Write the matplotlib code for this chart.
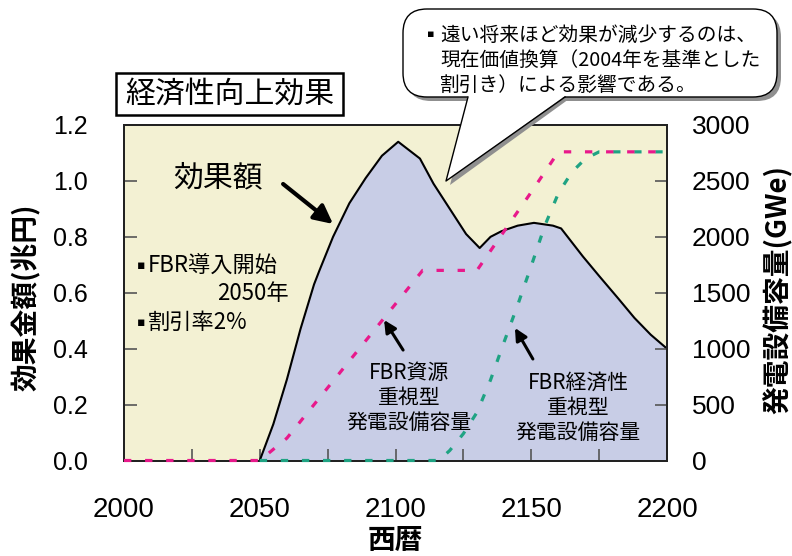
import matplotlib.pyplot as plt
from matplotlib.patches import FancyBboxPatch, Polygon, Rectangle
from matplotlib.ticker import MultipleLocator

plt.rcParams['font.family'] = ['Liberation Sans', 'Noto Sans CJK JP', 'DejaVu Sans']
JP = ['Noto Sans CJK JP', 'DejaVu Sans']

# 効果額 (兆円)
effect_years = [2050, 2055, 2060, 2065, 2070, 2072, 2077, 2083, 2089, 2095, 2101,
                2109, 2114, 2120, 2126, 2131, 2135, 2139, 2145, 2151, 2158, 2161,
                2169, 2175, 2182, 2188, 2194, 2200]
effect = [0.0, 0.13, 0.29, 0.47, 0.63, 0.68, 0.80, 0.92, 1.01, 1.09, 1.14,
          1.08, 0.99, 0.90, 0.81, 0.76, 0.80, 0.82, 0.84, 0.85, 0.84, 0.83,
          0.73, 0.66, 0.58, 0.51, 0.45, 0.40]

# FBR資源重視型 発電設備容量 (GWe)
res_years = [2000, 2050, 2053, 2060, 2070, 2080, 2090, 2100, 2110, 2130, 2140, 2150, 2160, 2200]
res_cap = [0, 0, 60, 200, 500, 800, 1100, 1400, 1700, 1700, 2050, 2400, 2760, 2760]

# FBR経済性重視型 発電設備容量 (GWe)
eco_years = [2050, 2116, 2120, 2125, 2130, 2135, 2140, 2145, 2150, 2155, 2160, 2165, 2170, 2175, 2200]
eco_cap = [0, 0, 90, 240, 430, 720, 1060, 1390, 1740, 2100, 2390, 2580, 2700, 2760, 2760]

fig = plt.figure(figsize=(7.92, 5.56), dpi=100)
ax = fig.add_axes([124 / 792, 95.5 / 556, 543 / 792, 335.5 / 556])
ax.set_facecolor('#f3f1d3')
ax.set_xlim(2000, 2200)
ax.set_ylim(0, 1.2)

ax.fill_between(effect_years, effect, 0, color='#c8cde6', zorder=1)
ax.plot(effect_years, effect, color='black', lw=1.5, zorder=2)

ax2 = ax.twinx()
ax2.set_ylim(0, 3000)
dash = (0, (2.3, 4.3))
ax2.plot(eco_years, eco_cap, color='#1fa383', lw=2.3, linestyle=dash,
         dash_capstyle='butt', clip_on=False, zorder=4)
ax2.plot(res_years, res_cap, color='#e8198b', lw=2.3, linestyle=dash,
         dash_capstyle='butt', clip_on=False, zorder=4)

# axes, ticks
ax.xaxis.set_major_locator(MultipleLocator(50))
ax.xaxis.set_minor_locator(MultipleLocator(25))
ax.yaxis.set_major_locator(MultipleLocator(0.2))
ax.yaxis.set_major_formatter(lambda v, p: f'{v:.1f}')
ax2.yaxis.set_major_locator(MultipleLocator(500))
ax.tick_params(axis='x', which='both', direction='in', length=9, width=1.2,
               color='#555555', labelsize=20, pad=26)
ax.tick_params(axis='y', direction='in', length=9, width=1.2,
               color='#555555', labelsize=18, pad=26)
ax2.tick_params(axis='y', direction='in', length=9, width=1.2,
                color='#555555', labelsize=19, pad=18)
for a in (ax, ax2):
    for s in a.spines.values():
        s.set_linewidth(1.4)
        s.set_color('#222222')

fig.text(26 / 792, 1 - 297 / 556, '効果金額(兆円)', rotation=90, ha='center', va='center',
         fontsize=20, family=JP, weight='bold')
fig.text(778 / 792, 1 - 290 / 556, '発電設備容量(GWe)', rotation=90, ha='center', va='center',
         fontsize=20, family=JP, weight='bold')
fig.text(395 / 792, 1 - 541 / 556, '西暦', ha='center', va='center',
         fontsize=20, family=JP, weight='bold')

# annotations inside the plot
ax.text(2034.6, 1.01, '効果額', ha='center', va='center', fontsize=21.5, family=JP, zorder=5)
ax.annotate('', xy=(2077.0, 0.846), xytext=(2058.6, 0.989),
            arrowprops=dict(arrowstyle='-|>', lw=3, color='black', mutation_scale=28,
                            shrinkA=0, shrinkB=0), zorder=5)
ax.text(2004.6, 0.699, '▪', ha='left', va='center', fontsize=9, family=['DejaVu Sans'], zorder=5)
ax.text(2008.6, 0.699, 'FBR導入開始', ha='left', va='center', fontsize=16, family=JP, zorder=5)
ax.text(2060.8, 0.599, '2050年', ha='right', va='center', fontsize=16, family=JP, zorder=5)
ax.text(2004.6, 0.495, '▪', ha='left', va='center', fontsize=9, family=['DejaVu Sans'], zorder=5)
ax.text(2008.6, 0.495, '割引率2%', ha='left', va='center', fontsize=16, family=JP, zorder=5)

ax.text(2105, 0.2235, 'FBR資源\n重視型\n発電設備容量', ha='center', va='center',
        fontsize=15, family=JP, linespacing=1.2, zorder=5)
ax.annotate('', xy=(2095.8, 0.5025), xytext=(2102.8, 0.395),
            arrowprops=dict(arrowstyle='-|>', lw=2.2, color='black', mutation_scale=18,
                            shrinkA=0, shrinkB=0), zorder=5)
ax.text(2167.2, 0.1878, 'FBR経済性\n重視型\n発電設備容量', ha='center', va='center',
        fontsize=15, family=JP, linespacing=1.2, zorder=5)
ax.annotate('', xy=(2144.0, 0.474), xytext=(2150.6, 0.363),
            arrowprops=dict(arrowstyle='-|>', lw=2.2, color='black', mutation_scale=18,
                            shrinkA=0, shrinkB=0), zorder=5)

# overlay in pixel units for the title box and the speech bubble
ov = fig.add_axes([0, 0, 1, 1], zorder=10)
ov.set_xlim(0, 792)
ov.set_ylim(556, 0)
ov.axis('off')

ov.add_patch(Rectangle((116, 73), 227, 42, facecolor='white', edgecolor='black', lw=1.8))
ov.text(229.5, 94, '経済性向上効果', ha='center', va='center', fontsize=21.5, family=JP)

shadow = '#8f8f8f'
ov.add_patch(FancyBboxPatch((407, 13), 374, 88, boxstyle='round,pad=0,rounding_size=24',
                            facecolor=shadow, edgecolor='none'))
ov.add_patch(Polygon([(472, 99), (450, 185), (569, 99)], closed=True,
                     facecolor=shadow, edgecolor='none'))
ov.add_patch(FancyBboxPatch((403, 9), 374, 88, boxstyle='round,pad=0,rounding_size=24',
                            facecolor='white', edgecolor='black', lw=1.0))
ov.add_patch(Polygon([(468, 96), (446, 181), (565, 96)], closed=True,
                     facecolor='white', edgecolor='none'))
ov.plot([468, 446, 565], [97, 181, 97], color='black', lw=1.0)

ov.text(427, 34, '▪', ha='left', va='center', fontsize=8, family=['DejaVu Sans'])
ov.text(440, 35, '遠い将来ほど効果が減少するのは、', ha='left', va='center', fontsize=14.2, family=JP)
ov.text(440, 60, '現在価値換算（2004年を基準とした', ha='left', va='center', fontsize=14.2, family=JP)
ov.text(440, 85, '割引き）による影響である。', ha='left', va='center', fontsize=14.2, family=JP)

fig.savefig('out.png', dpi=100)
